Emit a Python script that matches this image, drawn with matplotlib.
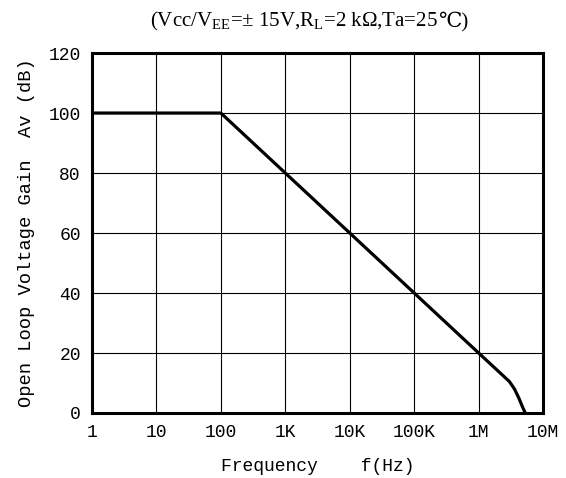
import matplotlib
matplotlib.use("Agg")
import matplotlib.pyplot as plt

# open loop gain vs frequency
freq = [1, 100, 1e6, 3.0e6, 3.6e6, 4.2e6, 4.8e6, 5.3e6]
gain = [100, 100, 20, 10.5, 8.0, 5.0, 2.0, 0]

xticks = [1, 10, 100, 1e3, 1e4, 1e5, 1e6, 1e7]
xlabels = ["1", "10", "100", "1K", "10K", "100K", "1M", "10M"]
yticks = [0, 20, 40, 60, 80, 100, 120]

plt.rcParams["mathtext.fontset"] = "custom"
plt.rcParams["mathtext.rm"] = "Liberation Serif"
mono = ["Liberation Mono", "DejaVu Sans Mono"]

fig = plt.figure(figsize=(5.66, 4.78), dpi=100)
ax = fig.add_axes([0.1625, 0.136, 0.797, 0.753])

ax.plot(freq, gain, color="black", lw=2.3, solid_joinstyle="round", zorder=3)

ax.set_xscale("log")
ax.set_xlim(1, 1e7)
ax.set_ylim(0, 120)
ax.set_xticks(xticks)
ax.set_xticklabels(xlabels, family=mono, fontsize=13)
ax.minorticks_off()
ax.set_yticks(yticks)
ax.set_yticklabels([str(v) for v in yticks], family=mono, fontsize=13)
ax.tick_params(length=0, pad=8)
ax.grid(True, color="black", lw=0.8)
for s in ax.spines.values():
    s.set_linewidth(2.2)

ax.set_xlabel("Frequency    f(Hz)", family=mono, fontsize=13, labelpad=12)
ax.set_ylabel("Open Loop Voltage Gain  Av (dB)", family=mono, fontsize=13.5, labelpad=10)

# title: subscripts through mathtext, the degree sign as separate text
t1 = fig.text(0.265, 0.955, r"(Vcc/V$_{\mathregular{EE}}$=$\mathregular{\pm}$ 15V,R$_{\mathregular{L}}$=2 k$\mathregular{\Omega}$,Ta=25",
              fontsize=15, family="Liberation Serif", va="center", ha="left")
fig.canvas.draw()
bb = t1.get_window_extent()
x1 = bb.x1 / fig.bbox.width
fig.text(x1, 0.955, "℃)", fontsize=15, family=["Liberation Serif", "DejaVu Serif"],
         va="center", ha="left")

fig.savefig("out.png", dpi=100)
